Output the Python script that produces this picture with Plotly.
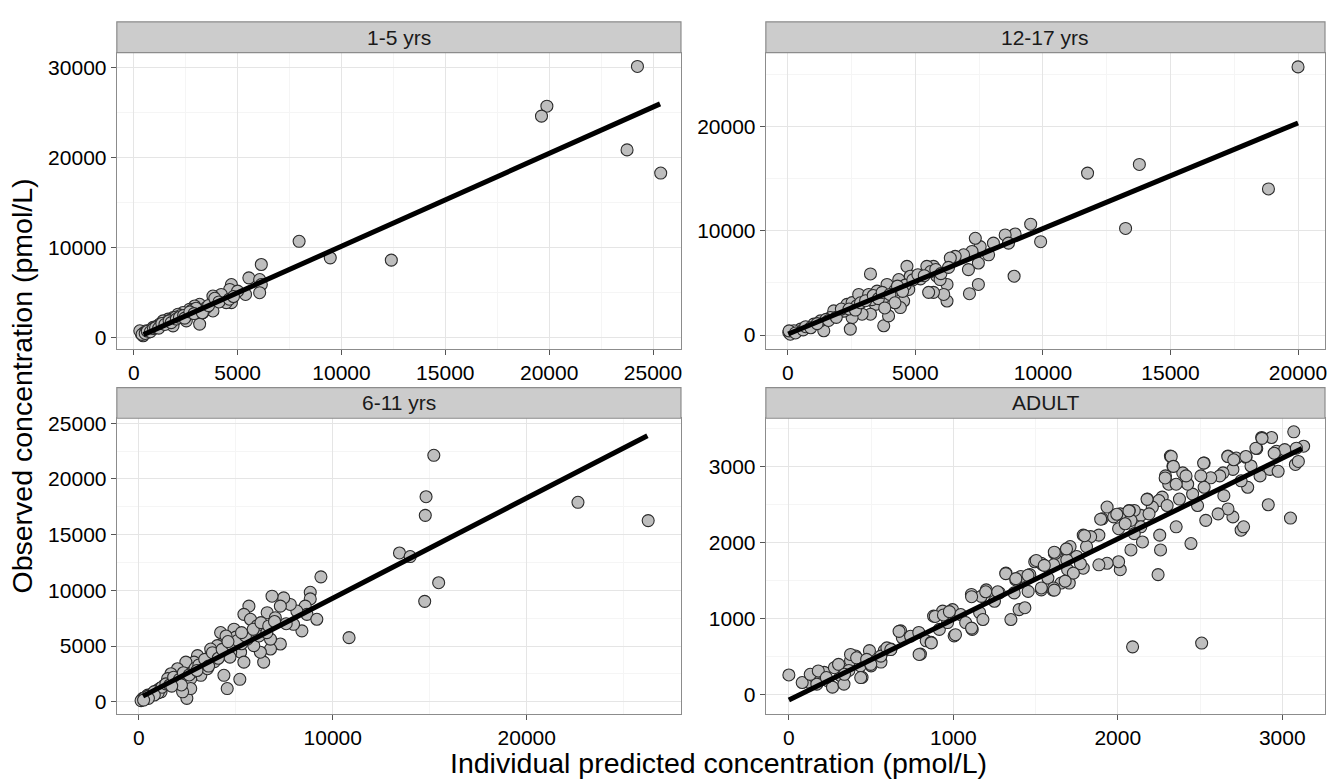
import plotly.graph_objects as go

# ---------------- data ----------------
panel_titles = ["1-5 yrs", "12-17 yrs", "6-11 yrs", "ADULT"]

p1_x = [24250, 19890, 19630, 23750, 25370, 7960, 9460, 12400, 6140,
        5540, 6060, 6140, 6060, 5380, 4700, 4620, 4700, 4450, 4210, 3810, 3810, 3170, 3170, 2930, 3330,
        2690, 2370, 2130, 1890, 1650, 1410, 1250, 930, 610, 370, 290, 450, 2530, 1890, 3490,
        500, 700, 850, 1100, 1300, 1550, 1750, 2000, 2250, 2600, 2800, 3000,
        400, 550, 650, 800, 950, 1050, 1200, 1350, 1500, 1700, 1800, 2050, 2200, 2400, 2450, 2700,
        2900, 3300, 3600, 3900, 4100, 4600, 5000, 4800]
p1_y = [30110, 25700, 24600, 20860, 18290, 10720, 8890, 8630, 8150,
        6670, 6480, 5930, 5020, 4830, 5930, 5380, 3920, 3920, 4830, 4650, 3000, 3740, 1540, 3550, 2820,
        3190, 2820, 2640, 2270, 2090, 1900, 1540, 1180, 800, 440, 800, 250, 1900, 1350, 3370,
        600, 650, 900, 1300, 1400, 1700, 1950, 2300, 2500, 2600, 3100, 3300,
        400, 500, 750, 700, 1050, 1150, 1100, 1600, 1500, 1900, 1700, 2100, 2300, 2500, 2200, 2900,
        2700, 2800, 3600, 4400, 4000, 4300, 5200, 4600]
p1_line_x = [470, 25340]
p1_line_y = [370, 25960]

p2_x = [20000, 11750, 13780, 18840, 13240, 9910, 9520,
        8870, 8910, 8520, 8650, 8060, 7870, 7540, 7350, 7220, 7470, 7080, 7470, 7120, 6890, 6560, 6370,
        6240, 6240, 6110, 5840, 5710, 5520, 5970, 5710, 5450, 5190, 4670, 4800, 4350, 4740, 4540, 4410,
        4080, 3890, 3630, 3240, 3430, 3760, 3950, 3240, 2910, 2910, 2520, 2450, 2320, 2520, 2780, 3170,
        3500, 2000, 1800, 1670, 1410, 1280, 1020, 760, 500, 240, 40, 100, 50,
        1500, 2200, 2700, 3300, 3800, 4200, 4600, 5200, 5600, 300, 600,
        700, 900, 1150, 1600, 1900, 2100, 2400, 2650, 2850, 3050, 3350, 3550, 3700, 4000, 4300, 4500,
        4900, 5100, 5350, 5800, 6000, 6300, 4200, 3800]
p2_y = [25770, 15560, 16390, 14040, 10240, 8970, 10650,
        5650, 9710, 9620, 8830, 8830, 7710, 8500, 9300, 8030, 6920, 6290, 4860, 3970, 7710, 7560, 7400,
        4860, 3270, 3900, 5650, 4100, 4100, 5330, 6600, 6600, 5490, 6600, 5650, 5330, 4380, 3270, 2640,
        4380, 4860, 4100, 5870, 2950, 890, 1840, 2000, 3270, 2000, 1680, 570, 2950, 3110, 3900, 3900,
        4220, 2160, 2320, 1680, 410, 1360, 1050, 730, 570, 410, 250, 80, 400,
        1500, 2300, 2800, 3400, 3700, 4300, 4800, 5400, 6100, 200, 500,
        800, 700, 1100, 1400, 1700, 2500, 2500, 2400, 3100, 3300, 3800, 3500, 4100, 3900, 4700, 4200,
        5300, 5800, 5700, 6300, 5900, 6500, 3100, 2600]
p2_line_x = [15, 20000]
p2_line_y = [95, 20380]

p3_x = [15210, 14810, 14770, 22640, 26260, 13440, 13990, 15460, 14740, 10840, 9390,
        8840, 8840, 8580, 8670, 9180, 8410, 7980, 8150, 7810, 7470, 7300, 6870, 6620, 7040, 7300, 6790,
        6440, 6270, 5930, 5680, 5420, 5760, 6100, 6440, 5160, 4910, 5250, 5420, 4740, 4390, 4560, 4390,
        5210, 4560, 4050, 3790, 3540, 3370, 3030, 2850, 2510, 2430, 2170, 2000, 1830, 1660, 1490, 1320,
        970, 720, 460, 210, 120, 2480, 3200, 2680, 3710, 4220, 4910, 5590, 6790, 3540, 2680, 2260, 1150,
        5000, 5300, 5800, 6200, 4700, 3900, 3300, 2800, 1900, 1100, 600, 350, 4200, 6600, 7600,
        300, 500, 800, 1000, 1200, 1400, 1600, 1800, 2100, 2300, 2600, 2900, 3100, 3400, 3600, 3800,
        4100, 4300, 4500, 4800, 5100, 5500, 5900, 6300, 6700, 7000, 5300, 4600, 3000, 2200, 1700, 800,
        500, 250]
p3_y = [22120, 18400, 16730, 17900, 16260, 13350, 13030, 10680, 9010, 5750, 11210,
        9820, 9230, 8580, 7840, 7400, 6360, 6950, 8140, 8730, 9320, 8580, 9470, 7990, 7540, 5180, 4730,
        3550, 4440, 5030, 8580, 7840, 7400, 6800, 6510, 6070, 5330, 4440, 3550, 4440, 5330, 4730, 2370,
        2010, 1180, 5030, 4140, 3850, 2960, 4140, 3550, 2960, 3550, 2370, 2960, 1780, 2510, 2070, 1480,
        1040, 740, 590, 300, 100, 300, 2370, 2070, 4730, 6210, 6510, 5620, 5620, 2960, 1180, 890, 890,
        5800, 5200, 6000, 5900, 4000, 3600, 3400, 2700, 1800, 1200, 600, 400, 4400, 6200, 7000,
        350, 500, 900, 800, 1300, 1600, 1500, 2200, 2000, 2600, 2400, 3000, 3300, 3800, 3200, 4400,
        3900, 4700, 5900, 5100, 5500, 5900, 6500, 7100, 6800, 7200, 6200, 5400, 2800, 1500, 1400, 600,
        300, 150]
p3_line_x = [220, 26220]
p3_line_y = [500, 23880]

p4_x = [0, 2090, 2510,
        120, 150, 170, 215, 235, 265, 295, 315, 335, 375, 405, 365, 445, 435, 490, 500, 560, 580, 620,
        680, 690, 740, 790, 800, 835, 865, 880, 915, 935, 965, 995, 1005, 1045, 1075, 1115, 1110, 1160,
        1170, 1180, 1200, 1250, 1280, 1320, 1350, 1370, 1400, 1435, 1465, 1410, 1380, 1455, 1495, 1535,
        1545, 1575, 1615, 1605, 1655, 1645, 1685, 1695, 1705,
        3070, 3130, 3080, 3050, 2915, 2935, 2875, 2965, 3015, 2845, 2780, 2720, 2670, 2925, 2865, 2810,
        2790, 2750, 2750, 2765, 2700, 2700, 2670, 2640, 2645, 2620, 2610, 2535, 2525, 2565, 2525, 2505,
        2485, 2445, 2455, 2425, 2395, 2415, 2375, 2355, 2320, 2335, 2290, 2310, 2355, 2270, 2250, 2300,
        2255, 2260, 2245, 2210, 2180, 2140, 2190, 2100, 2140, 2080, 2070, 2015, 2005, 2045, 2100, 2150,
        2080, 2015, 2005, 1935, 1905, 1885, 1835, 1790, 1810, 1885, 1790, 1750, 1710, 1690, 1730, 1680,
        1620, 1610, 1610, 1535, 1535, 1935, 1975,
        670, 792, 866, 890, 940, 976, 1013, 1111, 1111, 1197, 1270, 1319, 1380, 1454, 1504, 1553,
        1614, 1614, 1688, 1773, 1798, 1896, 1994, 2068, 2178, 2288, 2325, 2338, 2522, 2669, 2705, 2779,
        2840, 2877, 2951, 2975, 3098, 3086,
        81, 130, 179, 228, 277, 302, 338, 375, 412, 437, 473, 498, 559, 596, 620]
p4_y = [260, 630, 680,
        165, 250, 140, 295, 185, 100, 380, 250, 140, 450, 510, 320, 230, 380, 580, 380, 430, 580, 600,
        840, 750, 770, 820, 535, 710, 690, 1035, 860, 1100, 950, 1120, 775, 1055, 950, 860, 1320, 1080,
        1295, 990, 1380, 1230, 1340, 1600, 990, 1340, 1120, 1145, 1580, 1555, 1510, 1360, 1750, 1380,
        1710, 1535, 1860, 1380, 1470, 1750, 1905, 1645, 1470,
        3460, 3270, 3030, 2325, 2500, 3385, 3385, 3205, 3225, 3240, 3125, 3115, 3140, 2965, 2880, 3010,
        2730, 2815, 2165, 2210, 2965, 2340, 2445, 2920, 2620, 2880, 2380, 2295, 3050, 2855, 2730, 2880,
        2490, 1990, 2640, 2770, 2920, 2880, 2575, 2210, 3140, 3010, 2880, 2770, 2770, 2600, 2555, 2490,
        2100, 1905, 1580, 2470, 2575, 2360, 2380, 2425, 2210, 2295, 2425, 2380, 2185, 2250, 2120, 2010,
        1905, 1645, 1750, 1730, 2315, 2100, 2080, 2100, 1950, 1710, 1665, 1820, 1950, 1775, 1600, 1495,
        1860, 1710, 1405, 1730, 1405, 2470, 2340,
        834, 530, 682, 1030, 1050, 1094, 790, 877, 1290, 1355, 1355, 1594, 1528, 1572, 1767, 1702,
        1876, 1376, 1919, 1724, 2093, 2310, 2375, 2419, 2571, 2853, 3135, 3005, 3048, 3135, 3092, 3135,
        3244, 3374, 3178, 2940, 3070, 3244,
        161, 269, 313, 226, 356, 400, 269, 530, 486, 226, 465, 400, 508, 617, 595]
p4_line_x = [0, 3120]
p4_line_y = [-70, 3240]

# ---------------- layout geometry ----------------
W, H = 1328, 779
def fx(px):
    return px / W
def fy(py):
    return 1 - py / H

panels = [
    dict(x=p1_x, y=p1_y, lx=p1_line_x, ly=p1_line_y, xdom=(117, 682), ydom=(46, 345),
         xr=[-817, 26346], yr=[-1209, 31648], xt=[0, 5000, 10000, 15000, 20000, 25000],
         yt=[0, 10000, 20000, 30000], xm=2500, ym=5000),
    dict(x=p2_x, y=p2_y, lx=p2_line_x, ly=p2_line_y, xdom=(767, 1327), ydom=(46, 345),
         xr=[-861, 21057], yr=[-1333, 27143], xt=[0, 5000, 10000, 15000, 20000],
         yt=[0, 10000, 20000], xm=2500, ym=5000),
    dict(x=p3_x, y=p3_y, lx=p3_line_x, ly=p3_line_y, xdom=(117, 682), ydom=(415, 713),
         xr=[-1130, 27950], yr=[-1068, 25445], xt=[0, 10000, 20000],
         yt=[0, 5000, 10000, 15000, 20000, 25000], xm=5000, ym=2500),
    dict(x=p4_x, y=p4_y, lx=p4_line_x, ly=p4_line_y, xdom=(767, 1327), ydom=(415, 713),
         xr=[-140, 3260], yr=[-248, 3638], xt=[0, 1000, 2000, 3000],
         yt=[0, 1000, 2000, 3000], xm=500, ym=500),
]

fig = go.Figure()
layout = dict(width=W, height=H, margin=dict(l=0, r=0, t=0, b=0),
              paper_bgcolor="white", plot_bgcolor="white", showlegend=False,
              font=dict(family="Liberation Sans, Arial, sans-serif", color="black"))
shapes = []
annotations = []

for i, p in enumerate(panels):
    n = i + 1
    xa = "x" if n == 1 else f"x{n}"
    ya = "y" if n == 1 else f"y{n}"
    fig.add_trace(go.Scatter(x=p["x"], y=p["y"], mode="markers", xaxis=xa, yaxis=ya,
                             marker=dict(size=12, color="#BEBEBE",
                                         line=dict(color="#2b2b2b", width=1.1)),
                             hoverinfo="skip"))
    fig.add_trace(go.Scatter(x=p["lx"], y=p["ly"], mode="lines", xaxis=xa, yaxis=ya,
                             line=dict(color="black", width=5), hoverinfo="skip"))
    common = dict(showline=True, mirror=True, linecolor="#8c8c8c", linewidth=1.2,
                  ticks="outside", ticklen=5, tickcolor="#555555", tickwidth=1,
                  showgrid=True, gridcolor="#E5E5E5", gridwidth=1.3, zeroline=False,
                  tickfont=dict(size=21, color="black"), tickformat="d",
                  ticklabeloverflow="allow")
    xkey = "xaxis" if n == 1 else f"xaxis{n}"
    ykey = "yaxis" if n == 1 else f"yaxis{n}"
    layout[xkey] = dict(common, domain=[fx(p["xdom"][0]), fx(p["xdom"][1])],
                        anchor=ya, range=p["xr"], tickvals=p["xt"],
                        minor=dict(dtick=p["xm"], tick0=0, showgrid=True, gridcolor="#F5F5F5",
                                   gridwidth=1, ticks=""))
    layout[ykey] = dict(common, domain=[fy(p["ydom"][1]), fy(p["ydom"][0])],
                        anchor=xa, range=p["yr"], tickvals=p["yt"],
                        minor=dict(dtick=p["ym"], tick0=0, showgrid=True, gridcolor="#F5F5F5",
                                   gridwidth=1, ticks=""))
    # strip
    top = p["ydom"][0] - 31
    shapes.append(dict(type="rect", xref="paper", yref="paper",
                       x0=fx(p["xdom"][0]), x1=fx(p["xdom"][1]),
                       y0=fy(p["ydom"][0]), y1=fy(top),
                       fillcolor="#CCCCCC", line=dict(color="#8c8c8c", width=1.2), layer="above"))
    annotations.append(dict(text=panel_titles[i], xref="paper", yref="paper",
                            x=fx((p["xdom"][0] + p["xdom"][1]) / 2),
                            y=fy((p["ydom"][0] + top) / 2), showarrow=False,
                            xanchor="center", yanchor="middle",
                            font=dict(size=21, color="#1a1a1a")))

annotations.append(dict(text="Individual predicted concentration (pmol/L)", xref="paper", yref="paper",
                        x=fx(720), y=fy(763), showarrow=False, xanchor="center", yanchor="middle",
                        font=dict(size=28.5, color="black")))
annotations.append(dict(text="Observed concentration (pmol/L)", xref="paper", yref="paper",
                        x=fx(22), y=fy(382), showarrow=False, xanchor="center", yanchor="middle",
                        textangle=-90, font=dict(size=28.5, color="black")))

layout["shapes"] = shapes
layout["annotations"] = annotations
fig.update_layout(**layout)
fig.write_html("out.html")
